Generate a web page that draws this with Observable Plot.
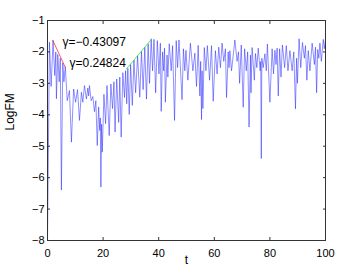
<!DOCTYPE html>
<html><head><meta charset="utf-8">
<script src="https://cdn.jsdelivr.net/npm/d3@7"></script>
<script src="https://cdn.jsdelivr.net/npm/@observablehq/plot@0.6"></script>
<style>body{margin:0;background:#fff}</style>
</head><body><div id="chart"></div>
<script>
const tValues = [0,0.7,1.3,2.0,2.6,3.0,3.2,3.7,4.2,4.6,5.0,5.5,5.9,6.4,7.1,7.9,8.6,9.4,10.1,10.8,11.5,12.2,12.7,13.3,14.0,14.5,14.8,15.1,15.7,16.3,16.9,17.4,17.9,18.4,18.8,19.0,19.2,19.45,19.7,20.3,20.9,21.4,22.2,22.8,23.4,23.9,24.3,24.9,25.6,26.0,26.5,27.1,27.7,28.1,28.5,28.9,29.4,29.9,30.5,31.1,31.7,32.4,33.2,33.8,34.4,35.0,35.6,36.2,36.7,37.3,37.8,38.3,38.9,39.5,40.1,40.6,40.9,41.4,41.8,42.1,42.4,43.0,43.3,43.8,44.5,45.0,45.7,46.3,46.8,47.3,48.4,48.9,49.4,49.8,50.5,51.4,52.3,53.0,53.6,54.2,54.8,55.1,55.4,55.6,55.9,56.4,57.0,57.5,58.3,59.0,59.6,60.4,61.0,61.6,62.2,62.8,63.4,64.0,64.4,65.0,65.3,65.6,66.2,67.4,68.2,68.7,69.1,69.7,70.4,70.9,71.5,72.0,72.5,73.0,73.2,73.6,74.4,74.8,75.3,75.8,76.5,76.7,76.9,77.1,77.6,78.2,78.7,79.1,80.0,80.8,81.3,81.8,82.2,82.6,83.0,83.5,84.0,84.5,85.3,85.9,86.5,87.2,88.0,88.6,89.2,89.6,89.9,90.5,91.1,91.7,92.4,92.8,93.3,93.8,94.4,95.2,96.0,96.4,96.8,97.2,97.6,98.0,98.5,99.2,99.6,100];
const logFM = [-8.0,-1.69,-3.1,-1.63,-2.75,-2.0,-3.49,-2.08,-2.95,-2.2,-6.39,-2.35,-2.95,-2.47,-3.55,-3.23,-4.87,-3.18,-3.6,-3.2,-4.18,-3.28,-3.6,-3.07,-3.5,-3.15,-3.4,-3.07,-3.55,-3.42,-3.9,-3.55,-4.98,-3.75,-4.5,-4.1,-6.3,-4.3,-5.19,-3.35,-4.28,-3.07,-4.66,-3.02,-3.8,-2.95,-4.55,-2.86,-4.24,-2.8,-4.71,-2.66,-3.45,-2.6,-3.65,-2.52,-3.99,-2.40,-3.7,-2.26,-3.3,-2.12,-3.44,-1.98,-3.2,-1.85,-3.5,-1.74,-3.0,-1.58,-2.6,-1.6,-3.3,-1.64,-2.7,-1.72,-3.89,-2.0,-2.6,-1.88,-3.6,-2.1,-2.8,-1.74,-2.6,-1.8,-4.18,-1.64,-2.5,-1.62,-3.52,-1.9,-2.6,-1.95,-2.9,-1.72,-2.6,-2.04,-3.1,-1.79,-3.4,-2.3,-4.15,-2.6,-3.8,-1.86,-2.6,-1.8,-2.9,-1.8,-3.57,-1.96,-2.7,-1.85,-2.5,-1.72,-2.3,-1.9,-3.45,-2.0,-2.5,-1.96,-2.6,-1.62,-2.3,-2.0,-3.0,-1.78,-3.76,-1.9,-2.6,-2.0,-4.39,-2.1,-3.3,-1.86,-2.9,-2.05,-2.5,-1.88,-2.6,-2.3,-5.39,-2.2,-2.5,-2.06,-2.6,-1.75,-3.6,-1.9,-2.7,-1.95,-2.4,-1.88,-3.4,-1.9,-2.8,-1.78,-2.5,-1.8,-2.6,-1.96,-2.6,-2.0,-3.81,-2.2,-3.0,-1.58,-2.5,-1.7,-2.2,-1.8,-2.9,-1.96,-2.6,-1.72,-2.4,-1.85,-3.3,-1.92,-2.2,-1.72,-2.3,-1.6,-1.9,-1.6];
const redFitT = [1.9, 6.4];
const redFitV = [-1.63, -2.49];
const greenFitT = [28.4, 37.4];
const greenFitV = [-2.54, -1.60];
const gammaText = ["γ=−0.43097", "γ=0.24824"];
const gammaT = [5.4, 7.9];
const gammaV = [-1.69, -2.35];
const xTicks = [0, 20, 40, 60, 80, 100];
const yTicks = [-8, -7, -6, -5, -4, -3, -2, -1];

const series = tValues.map((t, i) => ({t, v: logFM[i]}));
const red = redFitT.map((t, i) => ({t, v: redFitV[i]}));
const green = greenFitT.map((t, i) => ({t, v: greenFitV[i]}));
const labels = gammaText.map((s, i) => ({s, t: gammaT[i], v: gammaV[i]}));
const fmt = d => String(d).replace("-", "\u2212");

const chart = Plot.plot({
  width: 360, height: 270,
  marginLeft: 47, marginRight: 35, marginTop: 20, marginBottom: 30,
  x: {domain: [0, 100]},
  y: {domain: [-8, -1]},
  style: {fontFamily: "'Liberation Sans', Arial, sans-serif", fontSize: "11px", background: "white", color: "black", overflow: "visible"},
  marks: [
    Plot.line(series, {x: "t", y: "v", stroke: "#2020ff", strokeWidth: 0.5, clip: true}),
    Plot.line(red, {x: "t", y: "v", stroke: "#ff3030", strokeWidth: 0.8}),
    Plot.line(green, {x: "t", y: "v", stroke: "#30e030", strokeWidth: 0.8}),
    Plot.text(labels, {x: "t", y: "v", text: "s", textAnchor: "start", fontSize: 12, fill: "black"}),
    Plot.frame({stroke: "#333", strokeWidth: 1}),
    Plot.axisX(xTicks, {anchor: "bottom", tickSize: 0, tickPadding: 9, tickFormat: fmt, label: null}),
    Plot.axisX(xTicks, {anchor: "bottom", tickSize: -3, tickFormat: () => "", label: null, stroke: "#333"}),
    Plot.axisX(xTicks, {anchor: "top", tickSize: -3, tickFormat: () => "", label: null, stroke: "#333"}),
    Plot.axisY(yTicks, {anchor: "left", tickSize: 0, tickPadding: 3, tickFormat: fmt, label: null}),
    Plot.axisY(yTicks, {anchor: "left", tickSize: -3, tickFormat: () => "", label: null, stroke: "#333"}),
    Plot.axisY(yTicks, {anchor: "right", tickSize: -3, tickFormat: () => "", label: null, stroke: "#333"}),
    Plot.text(["t"], {frameAnchor: "bottom", dy: 23, fontSize: 12, fill: "black"}),
    Plot.text(["LogFM"], {frameAnchor: "left", dx: -37, rotate: -90, fontSize: 12, fill: "black"})
  ]
});
document.getElementById("chart").appendChild(chart);
</script>
</body></html>
